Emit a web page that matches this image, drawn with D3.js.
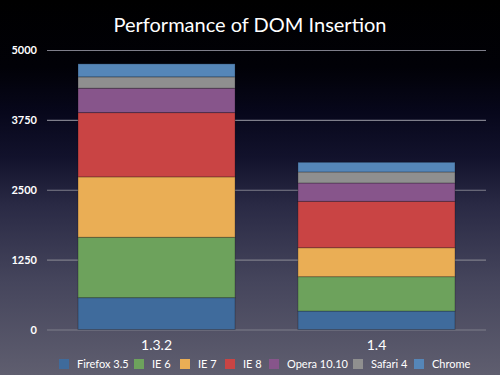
<!DOCTYPE html>
<html><head><meta charset="utf-8">
<script src="https://cdn.jsdelivr.net/npm/d3@7"></script>
<style>html,body{margin:0;padding:0;background:#000;}svg{display:block;}</style>
</head><body>
<script>
const categories = ["1.3.2", "1.4"];
const seriesNames = ["Firefox 3.5", "IE 6", "IE 7", "IE 8", "Opera 10.10", "Safari 4", "Chrome"];
const firefox = [570, 330];
const ie6 = [1080, 615];
const ie7 = [1080, 518];
const ie8 = [1150, 830];
const opera = [437, 328];
const safari = [202, 197];
const chrome = [233, 173];
const yTicks = [0, 1250, 2500, 3750, 5000];
const colors = ["#3f6b9c", "#6da25c", "#eaae55", "#c94444", "#87558b", "#8f8f8f", "#5586b8"];
const title = "Performance of DOM Insertion";

const seriesValues = [firefox, ie6, ie7, ie8, opera, safari, chrome];
const rows = categories.map((c, i) => {
  const r = {cat: c};
  seriesNames.forEach((s, j) => r[s] = seriesValues[j][i]);
  return r;
});

const W = 500, H = 375;
const svg = d3.select("body").append("svg").attr("width", W).attr("height", H);
const defs = svg.append("defs");
const grad = defs.append("linearGradient").attr("id", "bg").attr("x1", 0).attr("y1", 0).attr("x2", 0).attr("y2", 1);
[[0, "#000000"], [0.18, "#010107"], [0.3, "#07071b"], [0.42, "#12122c"], [0.55, "#2a2a45"], [0.75, "#45455c"], [1, "#5f5e6f"]]
  .forEach(([o, c]) => grad.append("stop").attr("offset", o).attr("stop-color", c));
svg.append("rect").attr("width", W).attr("height", H).attr("fill", "url(#bg)");

const font = "'Lato', 'Open Sans', sans-serif";
svg.append("text").attr("x", 250).attr("y", 32).attr("text-anchor", "middle")
  .attr("fill", "#fff").attr("font-family", font).attr("font-size", 20).text(title);

const y = d3.scaleLinear().domain([0, 5000]).range([329.5, 50]);
const x = d3.scaleBand().domain(categories).range([47, 486]).paddingInner(0.286).paddingOuter(0.141);

// gridlines
const yAxis = d3.axisLeft(y).tickValues(yTicks).tickSize(-(486 - 47)).tickPadding(10).tickFormat(d3.format("d"));
const ga = svg.append("g").attr("transform", "translate(47,0)").call(yAxis);
ga.select(".domain").remove();
ga.selectAll(".tick line").attr("stroke", "#7e7e8a").attr("stroke-width", 1.2);
ga.selectAll(".tick text").attr("fill", "#fff").attr("font-family", font).attr("font-weight", "bold").attr("font-size", 11);

const stack = d3.stack().keys(seriesNames)(rows);
const layers = svg.append("g").selectAll("g").data(stack).join("g")
  .attr("fill", (d, i) => colors[i]);
layers.selectAll("rect").data(d => d).join("rect")
  .attr("x", d => x(d.data.cat))
  .attr("width", x.bandwidth())
  .attr("y", d => y(d[1]))
  .attr("height", d => y(d[0]) - y(d[1]))
  .attr("stroke", "rgba(0,0,0,0.25)").attr("stroke-width", 1);

// category labels
const xAxis = d3.axisBottom(x).tickSize(0).tickPadding(0);
const gx = svg.append("g").attr("transform", "translate(0,340)").call(xAxis);
gx.select(".domain").remove();
gx.selectAll(".tick text").attr("fill", "#fff").attr("font-family", font).attr("font-size", 14).attr("dy", "0.71em");

// legend
const legX = [59, 134, 180, 225, 269, 353, 414];
const lg = svg.append("g");
seriesNames.forEach((s, i) => {
  lg.append("rect").attr("x", legX[i]).attr("y", 359).attr("width", 10).attr("height", 10).attr("fill", colors[i]);
  lg.append("text").attr("x", legX[i] + 18).attr("y", 368).attr("fill", "#fff")
    .attr("font-family", font).attr("font-size", 11).text(s);
});
</script>
</body></html>
